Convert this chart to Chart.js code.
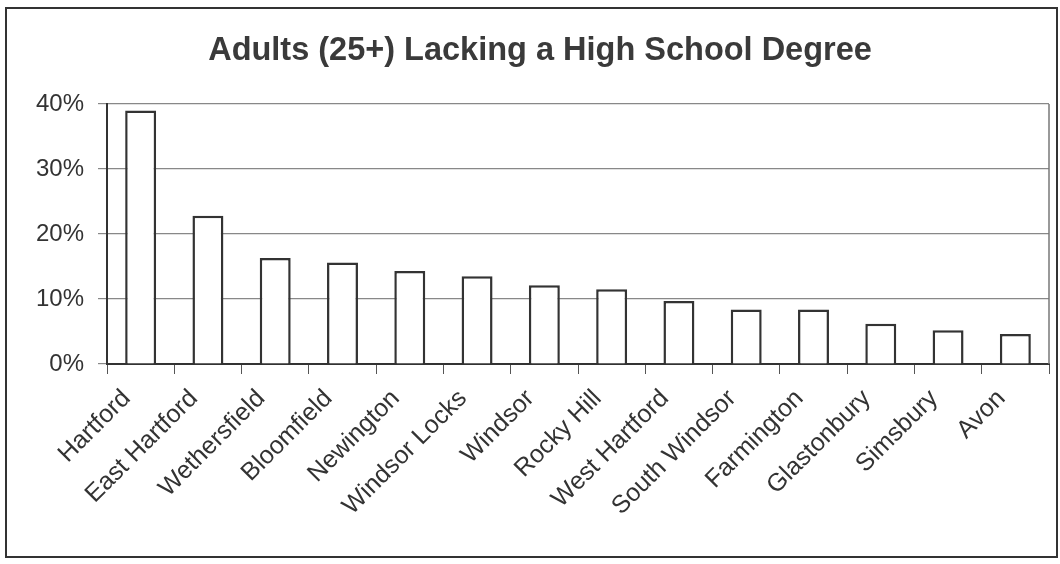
<!DOCTYPE html>
<html lang="en">
<head>
  <meta charset="UTF-8" />
  <title>Adults (25+) Lacking a High School Degree</title>
  <script src="https://cdn.jsdelivr.net/npm/chart.js"></script>
  <style>
    body {
      margin: 0;
      background: #fff;
      font-family: 'Liberation Sans', Arial, sans-serif;
    }
    .marco {
      position: absolute;
      left: 5px;
      top: 7px;
      width: 1053px;
      height: 551px;
      border: 2px solid #333;
      box-sizing: border-box;
    }
    canvas { display: block; }
  </style>
</head>
<body>

<div class="marco">
  <canvas id="grafico" width="1049" height="547"></canvas>
</div>

<script>
  const pueblos = ['Hartford', 'East Hartford', 'Wethersfield', 'Bloomfield', 'Newington', 'Windsor Locks',
    'Windsor', 'Rocky Hill', 'West Hartford', 'South Windsor', 'Farmington', 'Glastonbury', 'Simsbury', 'Avon'];
  const sinDiploma = [39.0, 22.8, 16.3, 15.6, 14.3, 13.5, 12.1, 11.5, 9.7, 8.4, 8.4, 6.2, 5.2, 4.6];
  const marcasY = [0, 10, 20, 30, 40];

  // borde derecho del area de trazado
  const bordeDerecho = {
    id: 'bordeDerecho',
    afterDraw(chart) {
      const { ctx, chartArea } = chart;
      ctx.save();
      ctx.strokeStyle = '#777';
      ctx.lineWidth = 1.5;
      ctx.beginPath();
      ctx.moveTo(chartArea.right, chartArea.top);
      ctx.lineTo(chartArea.right, chartArea.bottom);
      ctx.stroke();
      ctx.restore();
    }
  };

  new Chart(document.getElementById('grafico').getContext('2d'), {
    type: 'bar',
    data: {
      labels: pueblos,
      datasets: [{
        data: sinDiploma,
        backgroundColor: '#fff',
        borderColor: '#333',
        borderWidth: 2.5,
        barPercentage: 0.46,
        categoryPercentage: 1
      }]
    },
    options: {
      responsive: false,
      animation: false,
      layout: { padding: { left: 24, right: 7, top: 0, bottom: 0 } },
      plugins: {
        legend: { display: false },
        tooltip: { enabled: false },
        title: {
          display: true,
          text: 'Adults (25+) Lacking a High School Degree',
          color: '#3a3a3a',
          font: { family: "'Liberation Sans', Arial, sans-serif", size: 32.5, weight: 'bold' },
          padding: { top: 23, bottom: 33 }
        }
      },
      scales: {
        x: {
          offset: true,
          grid: {
            offset: true,
            drawOnChartArea: false,
            drawTicks: true,
            tickLength: 10,
            color: '#555'
          },
          border: { color: '#333', width: 2 },
          ticks: {
            minRotation: 45,
            maxRotation: 45,
            color: '#333',
            padding: 10,
            labelOffset: -14,
            font: { family: "'Liberation Sans', Arial, sans-serif", size: 25 }
          },
          afterFit(scale) { scale.height = 192; }
        },
        y: {
          min: 0,
          max: 40,
          afterBuildTicks(scale) { scale.ticks = marcasY.map(v => ({ value: v })); },
          grid: { color: '#888', lineWidth: 1.2, tickLength: 9 },
          border: { color: '#333', width: 2 },
          ticks: {
            color: '#333',
            padding: 14,
            font: { family: "'Liberation Sans', Arial, sans-serif", size: 24 },
            callback: v => v + '%'
          },
          afterFit(scale) { scale.width = 76; }
        }
      }
    },
    plugins: [bordeDerecho]
  });
</script>

</body>
</html>
